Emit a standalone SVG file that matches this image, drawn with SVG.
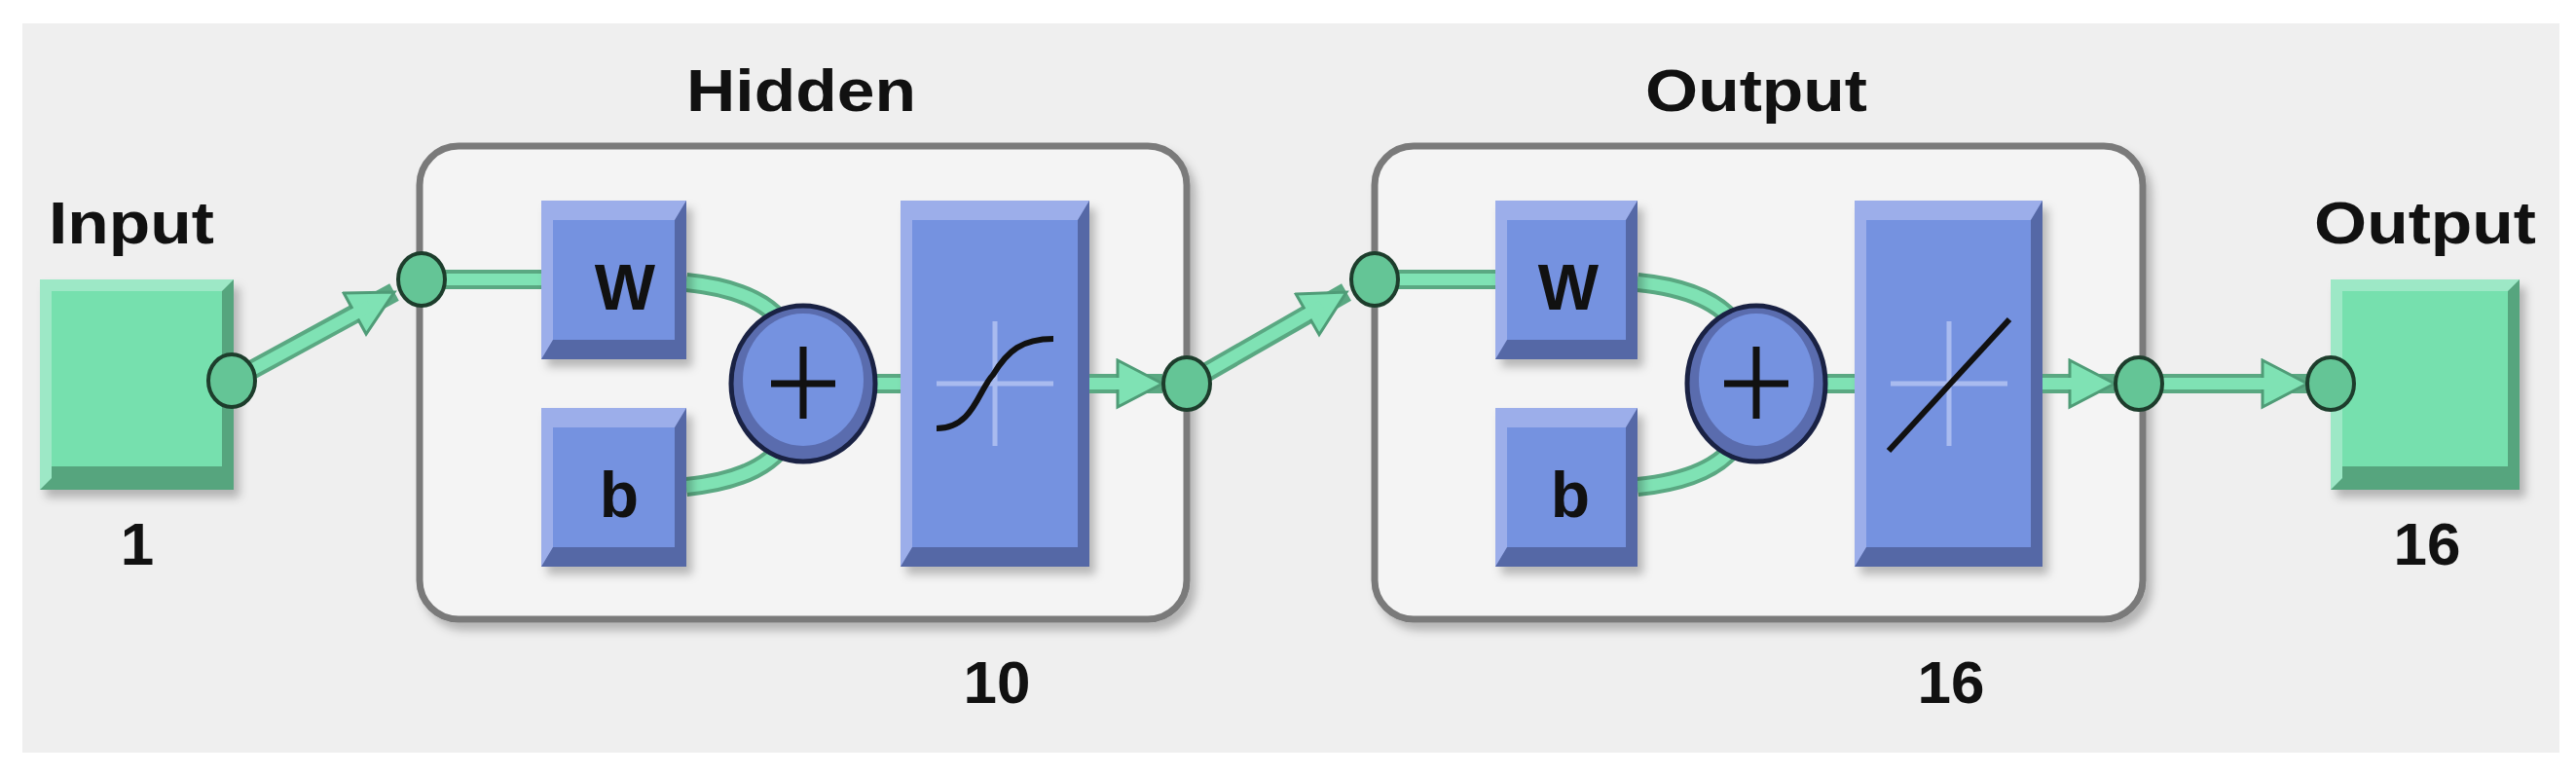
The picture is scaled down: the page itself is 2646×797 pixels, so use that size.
<svg xmlns="http://www.w3.org/2000/svg" width="2646" height="797" viewBox="0 0 2646 797">
<style>
.lbl{font-family:"Liberation Sans",Arial,sans-serif;font-weight:bold;fill:#111;text-anchor:middle}
.frame{fill:#f4f4f4;stroke:#7a7a7a;stroke-width:7}
.wire{fill:none;stroke:#5aa882;stroke-width:20}
.wirein{fill:none;stroke:#7fe2b4;stroke-width:12}
.dot{fill:#64c596;stroke:#1d3d2c;stroke-width:4}
.bl{fill:#9caeea}.bd{fill:#5567a6}.bm{fill:#7592e0}
.gl{fill:#9de8c6}.gd{fill:#56a57e}.gm{fill:#76e0ae}
.cross{stroke:#a9bbef;stroke-width:5}
</style>
<defs>
<marker id="ah" markerUnits="userSpaceOnUse" markerWidth="60" markerHeight="60" refX="48" refY="26" orient="auto">
<path d="M2,2 L48,26 L2,50 Z" fill="#7fe2b4" stroke="#4f9c77" stroke-width="3"/>
</marker>
<filter id="sh" x="-10%" y="-10%" width="130%" height="130%"><feDropShadow dx="6" dy="8" stdDeviation="5" flood-color="#000" flood-opacity="0.25"/></filter>
</defs>
<rect x="0" y="0" width="2646" height="797" fill="#ffffff"/>
<rect x="23" y="24" width="2606" height="749" fill="#efefef"/>

<g id="input">
<text class="lbl" x="135" y="250" font-size="62" textLength="170" lengthAdjust="spacingAndGlyphs">Input</text>
<g filter="url(#sh)"><rect class="gd" x="41" y="287" width="199" height="216"/><polygon class="gl" points="41,287 240,287 228,299 53,299 53,491 41,503"/><rect class="gm" x="53" y="299" width="175" height="180"/></g>
<text class="lbl" x="141" y="580" font-size="62">1</text>
</g>

<g id="hidden">
<text class="lbl" x="823" y="114" font-size="62" textLength="236" lengthAdjust="spacingAndGlyphs">Hidden</text>
<rect class="frame" x="431" y="150" width="788" height="486" rx="40" filter="url(#sh)"/>
<path class="wire" d="M433,287 H556 M705,290 Q785,298 808,338 M705,500 Q785,492 808,452 M895,394 H925"/>
<path class="wirein" d="M433,287 H556 M705,290 Q785,298 808,338 M705,500 Q785,492 808,452 M895,394 H925"/>
<g filter="url(#sh)">
<rect class="bd" x="556" y="206" width="149" height="163"/><polygon class="bl" points="556,206 705,206 693,226 568,226 568,349 556,369"/><rect class="bm" x="568" y="226" width="125" height="123"/>
<rect class="bd" x="556" y="419" width="149" height="163"/><polygon class="bl" points="556,419 705,419 693,439 568,439 568,562 556,582"/><rect class="bm" x="568" y="439" width="125" height="123"/>
<rect class="bd" x="925" y="206" width="194" height="376"/><polygon class="bl" points="925,206 1119,206 1107,226 937,226 937,562 925,582"/><rect class="bm" x="937" y="226" width="170" height="336"/>
</g>
<text class="lbl" x="642" y="318" font-size="66">W</text>
<text class="lbl" x="636" y="531" font-size="66">b</text>
<ellipse cx="825" cy="394" rx="74" ry="80" fill="#5a6cae" stroke="#1a2244" stroke-width="5"/>
<ellipse cx="825" cy="390" rx="62" ry="68" fill="#7592e0"/>
<path d="M792,394 H858 M825,356 V430" stroke="#111" stroke-width="7"/>
<path class="cross" d="M962,394 H1082 M1022,330 V458"/>
<path d="M962,440 C1000,440 1005,400 1020,385 C1035,360 1050,348 1082,348" fill="none" stroke="#111" stroke-width="6"/>
<text class="lbl" x="1024" y="722" font-size="62">10</text>
</g>

<g id="output-layer">
<text class="lbl" x="1804" y="114" font-size="62" textLength="228" lengthAdjust="spacingAndGlyphs">Output</text>
<rect class="frame" x="1412" y="150" width="789" height="486" rx="40" filter="url(#sh)"/>
<path class="wire" d="M1412,287 H1536 M1682,290 Q1762,298 1786,338 M1682,500 Q1762,492 1786,452 M1875,394 H1905"/>
<path class="wirein" d="M1412,287 H1536 M1682,290 Q1762,298 1786,338 M1682,500 Q1762,492 1786,452 M1875,394 H1905"/>
<g filter="url(#sh)">
<rect class="bd" x="1536" y="206" width="146" height="163"/><polygon class="bl" points="1536,206 1682,206 1670,226 1548,226 1548,349 1536,369"/><rect class="bm" x="1548" y="226" width="122" height="123"/>
<rect class="bd" x="1536" y="419" width="146" height="163"/><polygon class="bl" points="1536,419 1682,419 1670,439 1548,439 1548,562 1536,582"/><rect class="bm" x="1548" y="439" width="122" height="123"/>
<rect class="bd" x="1905" y="206" width="193" height="376"/><polygon class="bl" points="1905,206 2098,206 2086,226 1917,226 1917,562 1905,582"/><rect class="bm" x="1917" y="226" width="169" height="336"/>
</g>
<text class="lbl" x="1611" y="318" font-size="66">W</text>
<text class="lbl" x="1613" y="531" font-size="66">b</text>
<ellipse cx="1804" cy="394" rx="71" ry="80" fill="#5a6cae" stroke="#1a2244" stroke-width="5"/>
<ellipse cx="1804" cy="390" rx="59" ry="68" fill="#7592e0"/>
<path d="M1771,394 H1837 M1804,356 V430" stroke="#111" stroke-width="7"/>
<path class="cross" d="M1942,394 H2062 M2002,330 V458"/>
<path d="M1940,463 L2064,328" stroke="#111" stroke-width="6"/>
<text class="lbl" x="2004" y="722" font-size="62">16</text>
</g>

<g id="output">
<text class="lbl" x="2491" y="250" font-size="62" textLength="228" lengthAdjust="spacingAndGlyphs">Output</text>
<g filter="url(#sh)"><rect class="gd" x="2394" y="287" width="194" height="216"/><polygon class="gl" points="2394,287 2588,287 2576,299 2406,299 2406,491 2394,503"/><rect class="gm" x="2406" y="299" width="170" height="180"/></g>
<text class="lbl" x="2493" y="580" font-size="62">16</text>
</g>

<g id="connectors">
<path class="wire" d="M238,391 L405,300" marker-end="url(#ah)"/><path class="wirein" d="M238,391 L380,314"/>
<path class="wire" d="M1119,394 H1194" marker-end="url(#ah)"/><path class="wirein" d="M1119,394 H1170"/>
<path class="wire" d="M1219,394 L1383,300" marker-end="url(#ah)"/><path class="wirein" d="M1219,394 L1358,314"/>
<path class="wire" d="M2098,394 H2172" marker-end="url(#ah)"/><path class="wirein" d="M2098,394 H2150"/>
<path class="wire" d="M2197,394 H2370" marker-end="url(#ah)"/><path class="wirein" d="M2197,394 H2346"/>
<ellipse class="dot" cx="238" cy="391" rx="24" ry="27"/>
<ellipse class="dot" cx="433" cy="287" rx="24" ry="27"/>
<ellipse class="dot" cx="1219" cy="394" rx="24" ry="27"/>
<ellipse class="dot" cx="1412" cy="287" rx="24" ry="27"/>
<ellipse class="dot" cx="2197" cy="394" rx="24" ry="27"/>
<ellipse class="dot" cx="2394" cy="394" rx="24" ry="27"/>
</g>
</svg>
